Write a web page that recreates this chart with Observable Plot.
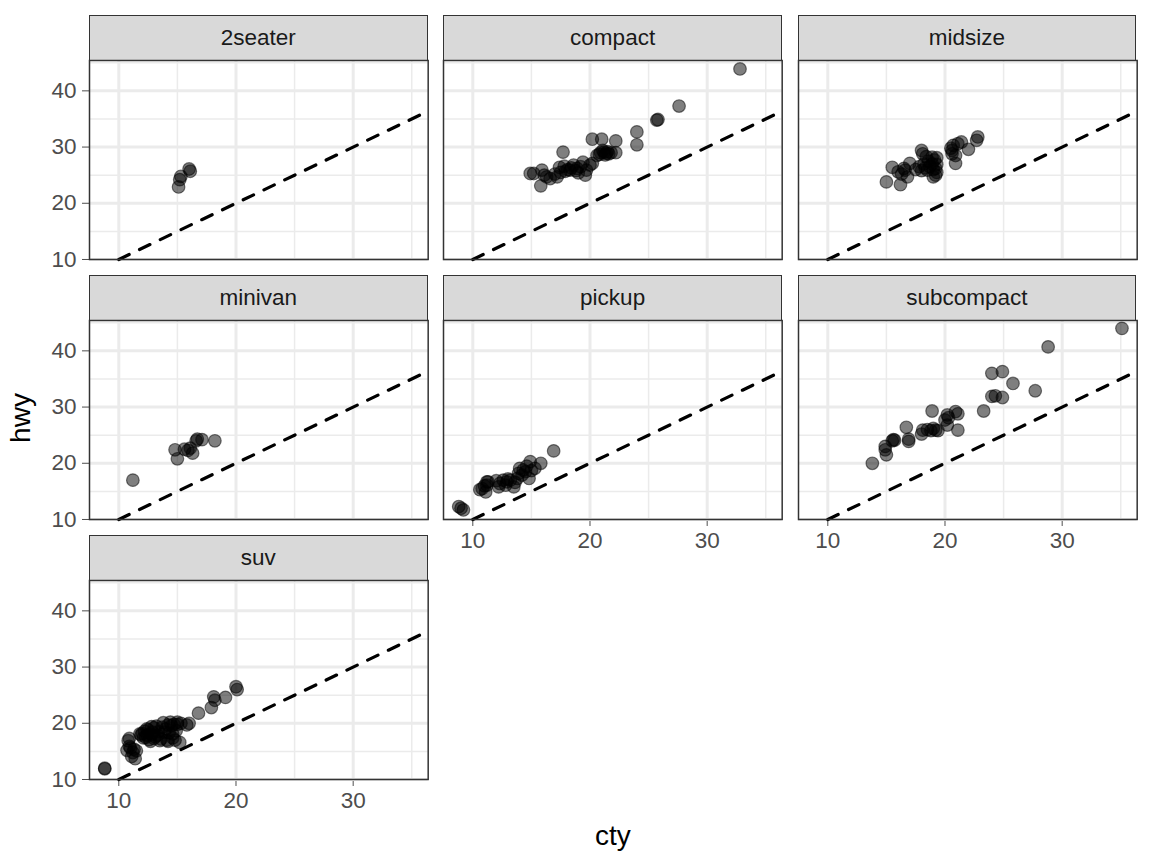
<!DOCTYPE html>
<html><head><meta charset="utf-8">
<script src="https://cdn.jsdelivr.net/npm/d3@7"></script>
<script src="https://cdn.jsdelivr.net/npm/@observablehq/plot@0.6"></script>
<style>
body{margin:0;background:#fff;font-family:"Liberation Sans",Arial,Helvetica,sans-serif;}
#chart{position:relative;width:1152px;height:864px;overflow:hidden;}
.strip{position:absolute;box-sizing:border-box;background:#D9D9D9;border:1.5px solid #333;color:#1A1A1A;font-size:22.5px;display:flex;align-items:center;justify-content:center;}
.panel{position:absolute;}
.titles{position:absolute;left:0;top:0;pointer-events:none;}
</style></head><body><div id="chart"></div>
<script>
// facet categories (mpg class)
const classes = ["2seater","compact","midsize","minivan","pickup","subcompact","suv"];

// jittered points per class
const cty2seater = [15.1,15.2,15.3,16.0,16.1];
const hwy2seater = [22.9,24.2,24.8,26.1,25.7];

const ctyCompact = [32.8,27.6,25.7,25.8,24.0,24.0,20.2,21.0,22.2,22.2,20.8,21.2,21.5,21.8,21.4,21.1,21.6,20.9,20.6,21.3,17.7,20.2,19.7,19.6,18.9,19.2,17.8,18.1,18.4,18.6,17.9,18.3,17.4,17.2,17.0,16.3,15.9,14.9,15.2,15.8,16.6,19.0,18.8,17.5,20.0,19.4,16.1];
const hwyCompact = [43.9,37.3,34.8,34.9,32.7,30.4,31.4,31.4,31.1,29.0,28.7,29.1,29.2,29.0,28.9,29.4,28.8,29.0,28.5,28.6,29.1,27.1,25.9,25.0,26.2,26.5,26.6,26.0,26.3,26.8,25.7,25.9,26.4,24.7,25.2,24.7,25.9,25.3,25.3,23.1,24.4,25.4,25.8,25.5,26.8,27.3,25.0];

const ctyMidsize = [22.8,22.7,22.0,21.4,21.1,20.7,20.6,20.9,20.6,20.5,20.9,18.0,18.1,18.4,18.9,19.1,19.3,18.6,18.2,18.9,19.3,19.2,18.7,18.3,17.8,18.0,19.3,19.0,17.0,16.6,16.0,16.3,15.5,15.0,16.2,16.8,19.2,17.5,18.5,16.5,19.0];
const hwyMidsize = [31.8,31.2,29.6,30.9,30.6,30.3,29.4,28.5,28.8,29.8,27.1,29.4,28.8,28.3,28.2,27.7,28.1,27.5,27.0,27.0,26.9,26.2,26.5,26.3,26.5,25.8,25.5,24.7,27.1,25.9,25.6,25.2,26.4,23.8,23.3,24.7,25.0,26.0,25.9,26.2,26.0];

const ctyMinivan = [11.2,15.0,14.8,16.3,16.1,15.9,16.7,16.6,17.1,18.2,15.6];
const hwyMinivan = [17.0,20.8,22.4,21.8,22.7,22.3,24.3,24.0,24.2,24.0,22.5];

const ctyPickup = [16.9,15.8,14.9,15.3,14.0,14.5,14.2,14.8,13.8,13.9,13.5,12.9,12.6,13.2,12.3,12.8,12.2,11.3,11.2,10.8,11.1,10.6,11.2,8.8,9.2,9.0,13.0,14.6,15.0,11.0,12.0,13.6,14.3];
const hwyPickup = [22.2,20.0,20.3,19.1,19.1,18.5,17.9,17.3,17.3,18.2,15.8,16.7,17.0,17.0,16.4,16.1,15.8,16.7,16.1,15.5,14.9,15.3,16.7,12.3,11.7,12.0,17.2,19.5,18.7,16.0,16.9,16.6,18.8];

const ctySubcompact = [35.1,28.8,24.0,24.9,25.8,27.7,24.0,24.3,24.9,23.3,18.9,20.2,20.0,20.9,21.1,20.2,21.1,18.5,18.8,19.2,19.4,18.1,19.0,16.7,16.9,16.9,15.6,15.5,14.9,15.0,14.9,13.8,18.0,20.3,15.7];
const hwySubcompact = [44.0,40.7,36.0,36.3,34.2,32.9,31.9,32.0,31.7,29.3,29.3,28.6,27.7,29.2,28.8,26.8,25.9,26.0,25.8,25.9,25.8,25.9,26.2,26.4,23.9,24.3,24.2,24.0,22.4,21.5,23.0,20.0,25.2,28.1,24.1];

const ctySuv = [12.0,12.3,12.5,12.8,13.0,13.1,12.7,13.4,13.6,13.8,14.0,14.1,14.3,14.5,14.6,14.9,15.0,13.2,12.2,11.8,12.6,13.5,14.2,14.8,13.9,12.9,12.4,14.4,13.3,12.1,10.9,10.8,10.7,11.0,11.2,11.1,11.4,10.9,11.3,11.5,8.8,8.8,20.0,20.1,19.1,18.1,18.2,17.9,16.8,16.0,15.8,15.3,15.0,14.7,15.2,13.7,12.4,14.6,13.0,11.9,14.2,12.8];
const hwySuv = [18.2,17.5,18.8,18.0,19.2,17.6,16.8,18.5,17.2,20.1,19.0,17.0,18.3,19.6,17.4,18.7,19.8,19.5,18.6,18.1,17.1,16.9,16.8,17.0,18.4,18.4,17.9,20.2,17.9,17.4,17.3,16.9,15.2,15.6,14.8,14.1,13.7,15.9,15.4,15.1,11.9,12.0,26.5,26.0,24.6,24.7,24.1,22.8,21.8,20.0,19.7,20.0,20.2,19.8,16.6,19.3,19.0,18.1,17.3,17.9,19.7,19.4];

// axis ticks
const xMajor = [10,20,30];
const xMinor = [15,25,35];
const yMajor = [10,20,30,40];
const yMinor = [15,25,35,45];
const xDomain = [7.5,36.4];
const yDomain = [10,45.4];

// reference line hwy = cty
const abline = {intercept: 0, slope: 1};

const seriesCty = [cty2seater,ctyCompact,ctyMidsize,ctyMinivan,ctyPickup,ctySubcompact,ctySuv];
const seriesHwy = [hwy2seater,hwyCompact,hwyMidsize,hwyMinivan,hwyPickup,hwySubcompact,hwySuv];

const chart = document.getElementById("chart");
const colLeft = [89,443.3,797.6], rowTop = [60,320,580];
const PW = 338.7, PH = 199, SH = 45;
const font = '"Liberation Sans",Arial,Helvetica,sans-serif';

// abline segment inside the panel
const ax0 = Math.max(xDomain[0], (yDomain[0]-abline.intercept)/abline.slope);
const ax1 = Math.min(xDomain[1], (yDomain[1]-abline.intercept)/abline.slope);
const ablinePts = [ax0, ax1].map(x => ({cty: x, hwy: abline.intercept + abline.slope*x}));

classes.forEach((name, i) => {
  const col = i % 3, row = Math.floor(i / 3);
  const showY = col === 0;
  const showX = i + 3 >= classes.length;
  const data = seriesCty[i].map((c, j) => ({cty: c, hwy: seriesHwy[i][j]}));

  const strip = document.createElement("div");
  strip.className = "strip";
  strip.style.left = colLeft[col] + "px";
  strip.style.top = (rowTop[row] - SH) + "px";
  strip.style.width = PW + "px";
  strip.style.height = (SH + 0.75) + "px";
  strip.textContent = name;
  chart.appendChild(strip);

  const mL = showY ? colLeft[col] : 0;
  const mB = showX ? 45 : 0;
  const svg = Plot.plot({
    width: mL + PW, height: PH + mB,
    marginLeft: mL, marginRight: 0, marginTop: 0, marginBottom: mB,
    x: {domain: xDomain, ticks: xMajor, tickSize: 7, tickPadding: 6, label: null, axis: showX ? "bottom" : null},
    y: {domain: yDomain, ticks: yMajor, tickSize: 7, tickPadding: 6, label: null, axis: showY ? "left" : null},
    style: {fontSize: "22.5px", fontFamily: font, color: "#4D4D4D", background: "transparent", overflow: "visible"},
    marks: [
      Plot.ruleX(xMinor, {stroke: "#EBEBEB", strokeWidth: 1.5}),
      Plot.ruleY(yMinor, {stroke: "#EBEBEB", strokeWidth: 1.5}),
      Plot.ruleX(xMajor, {stroke: "#EBEBEB", strokeWidth: 3}),
      Plot.ruleY(yMajor, {stroke: "#EBEBEB", strokeWidth: 3}),
      Plot.dot(data, {x: "cty", y: "hwy", r: 6.3, fill: "black", fillOpacity: 0.5, stroke: "black", strokeOpacity: 0.5, strokeWidth: 1.2}),
      Plot.line(ablinePts, {x: "cty", y: "hwy", stroke: "black", strokeWidth: 3.2, strokeDasharray: "11.5,11.5"}),
      Plot.frame({stroke: "#333", strokeWidth: 1.5})
    ]
  });
  svg.classList.add("panel");
  svg.style.position = "absolute";
  svg.style.left = (colLeft[col] - mL) + "px";
  svg.style.top = rowTop[row] + "px";
  chart.appendChild(svg);
});

// axis titles
const ns = "http://www.w3.org/2000/svg";
const t = document.createElementNS(ns, "svg");
t.setAttribute("class", "titles");
t.setAttribute("width", 1152); t.setAttribute("height", 864);
const mk = (txt, tr) => {
  const e = document.createElementNS(ns, "text");
  e.textContent = txt;
  e.setAttribute("transform", tr);
  e.setAttribute("text-anchor", "middle");
  e.setAttribute("font-family", font);
  e.setAttribute("font-size", "28");
  e.setAttribute("fill", "#000");
  t.appendChild(e);
};
mk("cty", "translate(612.9,845)");
mk("hwy", "translate(30,418) rotate(-90)");
chart.appendChild(t);
</script>
</body></html>
